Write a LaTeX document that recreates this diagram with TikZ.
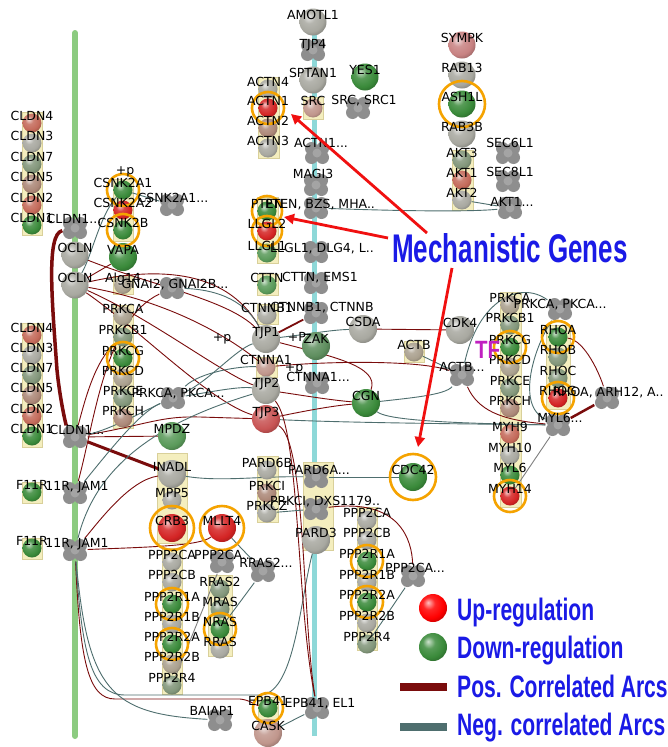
\documentclass[tikz,border=0pt]{standalone}
\usepackage{fontspec}
\newfontfamily\labfam{DejaVu Sans}
\newfontfamily\ttlfam{Liberation Sans}
\usetikzlibrary{arrows.meta}
\pgfdeclarelayer{back}\pgfdeclarelayer{edges}\pgfdeclarelayer{rings}\pgfdeclarelayer{labels}
\definecolor{posc}{HTML}{7A0C0C}
\definecolor{negc}{HTML}{4E6E6E}
\definecolor{ringc}{HTML}{F5A300}
\definecolor{yboxc}{HTML}{F4EEBE}
\definecolor{yboxd}{HTML}{D9D09A}
\definecolor{cxc}{HTML}{8E8E8E}
\definecolor{cxl}{HTML}{A4A4A4}
\definecolor{greenbar}{HTML}{8CCB80}
\definecolor{cyanbar}{HTML}{8ED8D8}
\definecolor{arrred}{HTML}{F01010}
\definecolor{legblue}{HTML}{1A1AE6}
\definecolor{tfc}{HTML}{C020C0}
\definecolor{gr}{HTML}{A8A8A0}
\definecolor{gn}{HTML}{3A8A3A}
\definecolor{lgn}{HTML}{5A9A5A}
\definecolor{rd}{HTML}{D42424}
\definecolor{rdg}{HTML}{C46A5A}
\definecolor{rdp}{HTML}{C85454}
\definecolor{brn}{HTML}{AC8878}
\definecolor{bgr}{HTML}{AAA08E}
\definecolor{ggn}{HTML}{82967A}
\definecolor{pnk}{HTML}{C88282}
\definecolor{pnkb}{HTML}{C0968C}
\definecolor{zakc}{HTML}{5E8E5E}
\colorlet{softc}{gray}
\pgfdeclareradialshading[softc]{softball}{\pgfqpoint{-9bp}{10bp}}{%
  color(0bp)=(softc!25!white); color(11bp)=(softc!85!white); color(24bp)=(softc);
  color(36bp)=(softc!68!black); color(60bp)=(softc!40!black)}
\newcommand\gball[6]{\node[ballnd, minimum size=#4pt, sball=#5] (#1) at (#2,#3) {};%
  \begin{pgfonlayer}{labels}\node[lab] (#1-t) at (#2,#3-7) {#6};\end{pgfonlayer}}
\newcommand\cplx[6]{\node[cxn] (#1) at (#2,#3) {};%
  \begin{pgfonlayer}{labels}\node[lab] (#1-t) at (#4,#5) {#6};\end{pgfonlayer}}
\newcommand\orring[2]{\begin{pgfonlayer}{rings}\draw[rg] (#1.center) circle (#2pt);\end{pgfonlayer}}
\newcommand\ybox[4]{\begin{pgfonlayer}{back}\filldraw[yb] (#1,#2) rectangle (#3,#4);\end{pgfonlayer}}
\begin{document}
\begin{tikzpicture}[x=1pt,y=-1pt,
  lab/.style={font={\labfam\fontsize{12.5}{13}\selectfont}, inner sep=0pt, text height=9pt, text depth=0pt},
  ballnd/.style={circle, inner sep=0pt},
  sball/.style={shade, shading=softball, /utils/exec={\colorlet{softc}{#1}}},
  cxn/.style={rectangle, inner sep=0pt, minimum width=25pt, minimum height=23pt,
    path picture={
      \foreach \ddx/\ddy in {-5.5/-4.5,5.5/-4.5,-5.5/4.5,5.5/4.5}{\fill[cxc] ([shift={(\ddx pt,\ddy pt)}]path picture bounding box.center) circle (6.5pt);}
      \fill[cxl] (path picture bounding box.center) circle (4.5pt);}},
  rg/.style={draw=ringc, line width=2.6pt},
  yb/.style={fill=yboxc, draw=yboxd, line width=0.6pt},
  posarc/.style={draw=posc, line width=0.9pt},
  negarc/.style={draw=negc, line width=0.9pt},
  redarr/.style={draw=arrred, line width=2.8pt, -{Triangle[length=10pt,width=10pt]}},
  leg/.style={font={\ttlfam\bfseries\fontsize{31}{31}\selectfont}, text=legblue, inner sep=0pt, anchor=base west}]
\pgfsetlayers{back,edges,main,rings,labels}
\useasboundingbox (0,0) rectangle (668,747);
\begin{pgfonlayer}{back}
\fill[white] (0,0) rectangle (668,747);
\draw[line width=6pt, draw=greenbar, line cap=round] (75,33) -- (75,736);
\draw[line width=5pt, draw=cyanbar] (314,25) -- (314,736);
\end{pgfonlayer}

% left CLDN stack A
\ybox{22}{112}{42}{235}
\gball{cA4}{32}{123}{19}{rdg}{CLDN4}
\gball{cA3}{32}{143}{19}{gr}{CLDN3}
\gball{cA7}{32}{164}{19}{ggn}{CLDN7}
\gball{cA5}{32}{184}{19}{brn}{CLDN5}
\gball{cA2}{32}{205}{19}{rdg}{CLDN2}
\gball{cA1}{32}{225}{19}{gn}{CLDN1}
\cplx{clA}{75}{228}{74}{219}{CLDN1...}
\gball{oc1}{75}{255}{27}{gr}{OCLN}
\gball{oc2}{75}{285}{27}{gr}{OCLN}
% stack B
\ybox{22}{323}{42}{447}
\gball{cB4}{32}{335}{19}{rdg}{CLDN4}
\gball{cB3}{32}{355}{19}{gr}{CLDN3}
\gball{cB7}{32}{375}{19}{ggn}{CLDN7}
\gball{cB5}{32}{395}{19}{brn}{CLDN5}
\gball{cB2}{32}{416}{19}{rdg}{CLDN2}
\gball{cB1}{32}{436}{19}{gn}{CLDN1}
\cplx{clB}{75}{437}{77}{430}{CLDN1...}
% F11R
\ybox{22}{482}{42}{503}
\gball{f1}{32}{492}{19}{gn}{F11R}
\cplx{jam1}{75}{493}{77}{486}{11R, JAM1}
\ybox{22}{538}{42}{559}
\gball{f2}{32}{548}{19}{gn}{F11R}
\cplx{jam2}{75}{550}{77}{543}{11R, JAM1}
% CSNK2
\ybox{113}{179}{133}{241}
\gball{cs1}{123}{190}{19}{gn}{CSNK2A1}\orring{cs1}{16}
\gball{cs2}{123}{210}{19}{rd}{CSNK2A2}
\gball{csb}{123}{230}{19}{gn}{CSNK2B}\orring{csb}{16}
\begin{pgfonlayer}{labels}\node[lab] (pp1) at (125,170) {+p};\end{pgfonlayer}
\cplx{csx}{172}{205}{173}{198}{CSNK2A1...}
\gball{vapa}{123}{257}{28}{gn}{VAPA}
\ybox{113}{276}{133}{294}
\gball{alg}{123}{285}{18}{bgr}{Alg14}
\cplx{gnx}{172}{288}{175}{284}{GNAI2, GNAI2B...}
% PRKC left
\ybox{113}{305}{133}{428}
\gball{pkA}{123}{316}{19}{bgr}{PRKCA}
\gball{pkB1}{123}{337}{19}{ggn}{PRKCB1}
\gball{pkG}{123}{358}{19}{gn}{PRKCG}\orring{pkG}{16}
\gball{pkD}{123}{378}{19}{bgr}{PRKCD}
\gball{pkE}{123}{398}{19}{ggn}{PRKCE}
\gball{pkH}{123}{418}{19}{brn}{PRKCH}
\cplx{pkx}{173}{398}{178}{393}{PRKCA, PKCA...}
\gball{mpdz}{172}{436}{28}{lgn}{MPDZ}
\ybox{157}{453}{187}{543}
\gball{inadl}{172}{474}{28}{gr}{INADL}
\gball{mpp5}{172}{500}{19}{gr}{MPP5}
\gball{crb3}{172}{528}{28}{rd}{CRB3}\orring{crb3}{22}
\gball{mllt4}{222}{528}{28}{rd}{MLLT4}\orring{mllt4}{22}
% PPP2 left
\ybox{162}{548}{182}{694}
\gball{qA}{172}{562}{19}{gr}{PPP2CA}
\gball{qB}{172}{582}{19}{gr}{PPP2CB}
\gball{q1A}{172}{604}{19}{gn}{PPP2R1A}\orring{q1A}{16}
\gball{q1B}{172}{624}{19}{gr}{PPP2R1B}
\gball{q2A}{172}{644}{19}{gn}{PPP2R2A}\orring{q2A}{16}
\gball{q2B}{172}{664}{19}{bgr}{PPP2R2B}
\gball{q4}{172}{685}{19}{ggn}{PPP2R4}
\cplx{q2x}{222}{562}{224}{555}{PPP2CA...}
% RRAS
\ybox{208}{575}{232}{656}
\gball{rr2}{220}{589}{19}{ggn}{RRAS2}
\gball{mras}{220}{609}{19}{ggn}{MRAS}
\gball{nras}{220}{629}{19}{gn}{NRAS}\orring{nras}{16}
\gball{rras}{220}{649}{19}{gr}{RRAS}
\cplx{rr2x}{263}{571}{266}{563}{RRAS2...}
\cplx{baiap}{220}{720}{212}{711}{BAIAP1}
\ybox{258}{697}{278}{719}
\gball{epb}{268}{708}{19}{gn}{EPB41}\orring{epb}{15}
\gball{cask}{268}{733}{28}{pnkb}{CASK}
\cplx{epbx}{317}{708}{320}{703}{EPB41, EL1}
% top centre
\gball{amotl}{313}{22}{27}{gr}{AMOTL1}
\cplx{tjp4x}{313}{50}{313}{44}{TJP4}
\gball{sptan}{313}{80}{27}{gr}{SPTAN1}
\gball{yes}{365}{77}{27}{gn}{YES1}
\ybox{303}{97}{323}{119}
\gball{src}{313}{108}{19}{pnkb}{SRC}
\cplx{srcx}{358}{108}{364}{100}{SRC, SRC1}
\ybox{258}{77}{279}{158}
\gball{act4}{268}{89}{19}{gr}{ACTN4}
\gball{act1}{268}{108}{19}{rd}{ACTN1}\orring{act1}{16}
\gball{act2}{268}{128}{19}{brn}{ACTN2}
\gball{act3}{268}{148}{19}{gr}{ACTN3}
\cplx{actx}{317}{153}{321}{143}{ACTN1...}
\cplx{magx}{316}{185}{313}{174}{MAGI3}
\ybox{257}{197}{278}{263}
\gball{pten}{267}{211}{19}{gn}{PTEN}\orring{pten}{15}
\gball{llgl2}{267}{231}{19}{rd}{LLGL2}\orring{llgl2}{15}
\gball{llgl1}{267}{253}{19}{lgn}{LLGL1}
\cplx{ptx}{316}{208}{320}{204}{PTEN, BZS, MHA..}
\cplx{llx}{316}{252}{322}{248}{LLGL1, DLG4, L..}
\ybox{257}{274}{278}{295}
\gball{cttn}{267}{285}{19}{lgn}{CTTN}
\cplx{cttnx}{316}{283}{320}{277}{CTTN, EMS1}
\ybox{257}{304}{278}{324}
\gball{ctnnb}{267}{315}{19}{gr}{CTNNB1}
\cplx{ctnnbx}{316}{313}{322}{307}{CTNNB1, CTNNB}
\gball{tjp1}{266}{339}{28}{gr}{TJP1}
\gball{zak}{316}{346}{28}{zakc}{ZAK}
\gball{csda}{363}{329}{28}{gr}{CSDA}
\ybox{404}{341}{424}{362}
\gball{actb}{414}{352}{19}{bgr}{ACTB}
\ybox{256}{357}{277}{377}
\gball{ctnna}{266}{367}{19}{pnkb}{CTNNA1}
\cplx{ctnnax}{317}{383}{318}{377}{CTNNA1...}
\gball{tjp2}{266}{390}{28}{gr}{TJP2}
\gball{tjp3}{266}{419}{28}{rdp}{TJP3}
\gball{cgn}{366}{403}{28}{gn}{CGN}
\begin{pgfonlayer}{labels}
\node[lab] (pp2) at (222,337) {+p};
\node[lab] (pp3) at (297,337) {+P};
\node[lab] (pp4) at (294,367) {+p};
\end{pgfonlayer}
% PARD
\ybox{257}{456}{278}{522}
\gball{p6b}{267}{470}{19}{gr}{PARD6B}
\gball{pki}{267}{493}{19}{brn}{PRKCI}
\gball{pkz}{267}{513}{19}{gr}{PRKCZ}
\ybox{303}{462}{333}{550}
\cplx{p6ax}{316}{477}{319}{470}{PARD6A...}
\cplx{pkix}{316}{509}{325}{501}{PRKCI, DXS1179..}
\gball{pard3}{316}{540}{28}{gr}{PARD3}
\gball{cdc42}{413}{477}{28}{gn}{CDC42}\orring{cdc42}{23}
% PPP2 right
\ybox{357}{507}{377}{650}
\gball{rA}{367}{520}{19}{gr}{PPP2CA}
\gball{rB}{367}{540}{19}{gr}{PPP2CB}
\gball{r1A}{367}{561}{19}{gn}{PPP2R1A}\orring{r1A}{16}
\gball{r1B}{367}{582}{19}{gr}{PPP2R1B}
\gball{r2A}{367}{602}{19}{gn}{PPP2R2A}\orring{r2A}{16}
\gball{r2B}{367}{623}{19}{gr}{PPP2R2B}
\gball{r4}{367}{644}{19}{ggn}{PPP2R4}
\cplx{rx}{413}{576}{415}{568}{PPP2CA...}
% right top
\gball{sympk}{462}{45}{27}{pnk}{SYMPK}
\gball{rab13}{462}{75}{27}{gr}{RAB13}
\gball{ash1l}{462}{104}{27}{gn}{ASH1L}\orring{ash1l}{23}
\gball{rab3b}{462}{134}{27}{gr}{RAB3B}
\ybox{452}{150}{473}{210}
\gball{akt3}{462}{160}{19}{ggn}{AKT3}
\gball{akt1}{462}{180}{19}{rdg}{AKT1}
\gball{akt2}{462}{200}{19}{gr}{AKT2}
\cplx{sec6}{508}{153}{510}{143}{SEC6L1}
\cplx{sec8}{508}{181}{510}{172}{SEC8L1}
\cplx{aktx}{510}{208}{512}{202}{AKT1...}
\gball{cdk4}{460}{330}{28}{gr}{CDK4}
\cplx{actbx}{462}{375}{462}{367}{ACTB...}
% right PRKC / MYH
\ybox{500}{292}{521}{507}
\gball{mpkA}{510}{305}{19}{bgr}{PRKCA}
\gball{mpkB1}{510}{325}{19}{ggn}{PRKCB1}
\gball{mpkG}{510}{347}{19}{gn}{PRKCG}\orring{mpkG}{16}
\gball{mpkD}{510}{367}{19}{bgr}{PRKCD}
\gball{mpkE}{510}{388}{19}{ggn}{PRKCE}
\gball{mpkH}{510}{408}{19}{brn}{PRKCH}
\gball{myh9}{510}{434}{19}{rdg}{MYH9}
\gball{myh10}{510}{455}{19}{gr}{MYH10}
\gball{myl6}{510}{475}{19}{gn}{MYL6}
\gball{myh14}{510}{496}{19}{rd}{MYH14}\orring{myh14}{16}
\cplx{prkx}{560}{309}{560}{304}{PRKCA, PKCA...}
\ybox{546}{325}{570}{409}
\gball{rhoa}{558}{337}{19}{gn}{RHOA}\orring{rhoa}{16}
\gball{rhob}{558}{357}{19}{ggn}{RHOB}
\gball{rhoc}{558}{378}{19}{ggn}{RHOC}
\gball{rhog}{558}{398}{19}{rd}{RHOG}\orring{rhog}{16}
\cplx{arhx}{607}{398}{608}{392}{RHOA, ARH12, A..}
\cplx{myl6x}{558}{425}{560}{418}{MYL6...}

% legend
\node[ballnd, minimum size=28pt, sball=red] (lgup) at (433,608) {};
\node[ballnd, minimum size=28pt, sball=gn] (lgdn) at (433,647) {};
\node[fill=posc, minimum width=47pt, minimum height=8pt, inner sep=0pt] (lgpos) at (423.5,687) {};
\node[fill=negc, minimum width=47pt, minimum height=8pt, inner sep=0pt] (lgneg) at (423.5,727) {};
\node[leg] (tup) at (457,620) {\scalebox{0.68}[1]{Up-regulation}};
\node[leg] (tdn) at (457,658) {\scalebox{0.68}[1]{Down-regulation}};
\node[leg] (tpos) at (457,697) {\scalebox{0.68}[1]{Pos. Correlated Arcs}};
\node[leg] (tneg) at (457,735) {\scalebox{0.68}[1]{Neg. correlated Arcs}};

\begin{pgfonlayer}{edges}
\draw[posarc, line width=3.5pt] (clA) .. controls (46,234) and (52,300) .. (57,370) .. controls (60,400) and (66,425) .. (clB);
\draw[posarc, line width=3pt] (clB) -- (inadl);
\draw[posarc] (clB) -- (mpdz);
\draw[posarc] (clB) .. controls (150,424) and (160,416) .. (200,417) -- (tjp3);
\draw[posarc] (oc2) -- (vapa);
\draw[posarc] (oc2) .. controls (150,268) and (225,266) .. (tjp1);
\draw[posarc] (oc1) .. controls (150,285) and (230,300) .. (tjp1);
\draw[posarc] (oc2) .. controls (160,300) and (220,330) .. (ctnna);
\draw[posarc] (oc2) .. controls (150,318) and (220,372) .. (tjp2);
\draw[posarc] (oc2) .. controls (140,330) and (210,402) .. (tjp3);
\draw[posarc] (pkB1) .. controls (95,360) and (85,400) .. (clB);
\draw[posarc] (jam1) .. controls (95,420) and (105,320) .. (gnx);
\draw[posarc] (jam2) .. controls (100,520) and (130,480) .. (inadl);
\draw[posarc] (jam2) .. controls (150,547) and (200,546) .. (mllt4);
\draw[posarc] (jam2) .. controls (80,660) and (88,699) .. (115,699) -- (240,699) .. controls (250,700) and (255,705) .. (epb);
\draw[negarc] (jam2) .. controls (82,650) and (90,695) .. (125,695) -- (262,695) .. controls (295,690) and (300,600) .. (pard3);
\draw[negarc] (jam2) .. controls (88,690) and (110,714) .. (baiap);
\draw[negarc] (jam2) .. controls (95,470) and (150,425) .. (tjp2);
\draw[negarc] (jam1) .. controls (110,450) and (140,412) .. (pkx);
\draw[negarc] (clB) .. controls (110,430) and (150,408) .. (pkx);
\draw[negarc] (pkx) .. controls (210,380) and (235,350) .. (tjp1);
\draw[negarc] (pkx) .. controls (210,392) and (240,386) .. (tjp2);
\draw[negarc] (pkx) .. controls (200,372) and (240,366) .. (ctnna);
\draw[negarc] (gnx) .. controls (230,290) and (250,310) .. (tjp1);
\draw[negarc] (cs1) -- (csx);
\draw[negarc] (cs1) .. controls (100,215) and (92,255) .. (oc2);
\draw[negarc] (ptx) .. controls (400,211) and (470,212) .. (aktx);
\draw[negarc] (akt2) -- (aktx);
\draw[posarc, line width=1.8pt] (tjp1) -- (ctnnbx);
\draw[negarc] (tjp1) .. controls (310,334) and (330,330) .. (csda);
\draw[posarc] (csda) -- (cdk4);
\draw[posarc] (ctnna) .. controls (330,361) and (420,360) .. (actbx);
\draw[posarc] (tjp2) .. controls (300,395) and (330,400) .. (cgn);
\draw[posarc] (tjp3) .. controls (300,412) and (330,406) .. (cgn);
\draw[posarc] (tjp1) .. controls (330,356) and (380,366) .. (cgn);
\draw[negarc] (tjp3) .. controls (350,423) and (480,424) .. (myl6x);
\draw[negarc] (cgn) .. controls (385,418) and (420,423) .. (myl6x);
\draw[posarc] (tjp2) .. controls (300,430) and (296,600) .. (epbx);
\draw[posarc] (tjp3) .. controls (306,440) and (302,620) .. (epbx);
\draw[negarc] (actb) -- (actbx);
\draw[negarc] (actbx) .. controls (478,300) and (520,280) .. (prkx);
\draw[negarc] (actbx) .. controls (445,395) and (410,398) .. (cgn);
\draw[posarc] (actbx) .. controls (478,410) and (500,420) .. (myl6x);
\draw[posarc, line width=2.5pt] (myl6x) -- (arhx);
\draw[posarc] (rhoa) .. controls (585,340) and (600,375) .. (arhx);
\draw[negarc] (prkx) .. controls (535,345) and (515,405) .. (myl6x);
\draw[negarc, draw=gray] (myl6x) -- (myh14);
\draw[negarc] (inadl) .. controls (220,482) and (260,476) .. (p6ax);
\draw[negarc] (p6ax) -- (cdc42);
\draw[negarc] (pkz) -- (pkix);
\draw[posarc] (pkix) .. controls (400,498) and (412,540) .. (rx);
\draw[negarc] (rx) -- (r4);
\draw[negarc] (mllt4) -- (rr2x);
\draw[negarc] (rr2x) -- (nras);
\draw[negarc, draw=gray] (q2x) -- (q4);
\draw[negarc] (epbx) -- (cask);
\end{pgfonlayer}

\begin{pgfonlayer}{labels}
\node[font={\ttlfam\bfseries\fontsize{40}{40}\selectfont}, text=legblue, inner sep=0pt, anchor=base west] (mech) at (392,262) {\scalebox{0.65}[1]{Mechanistic Genes}};
\node[font={\ttlfam\bfseries\fontsize{25}{25}\selectfont}, text=tfc, inner sep=0pt, anchor=base west] (tf) at (475,358) {\scalebox{0.82}[1]{TF}};
\coordinate (m1) at (427,233);
\coordinate (m1t) at (291,114);
\coordinate (m2) at (388,238);
\coordinate (m2t) at (284,217);
\coordinate (m3) at (452,268);
\coordinate (m3t) at (418,447);
\draw[redarr] (m1) -- (m1t);
\draw[redarr] (m2) -- (m2t);
\draw[redarr] (m3) -- (m3t);
\end{pgfonlayer}
\end{tikzpicture}
\end{document}
